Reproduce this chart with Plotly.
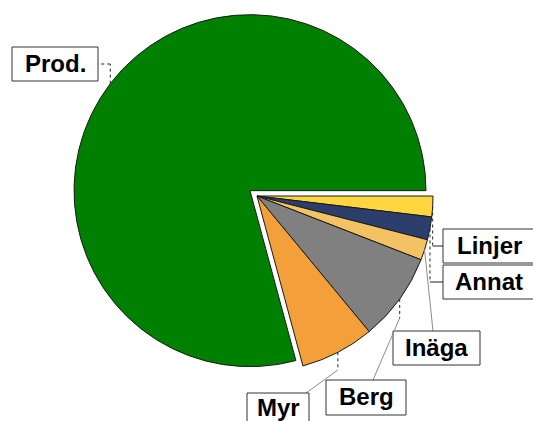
import math
import plotly.graph_objects as go

# ---- data ----
labels = ["Linjer", "Annat", "Inäga", "Berg", "Myr", "Prod."]
values = [1.9, 2.1, 1.9, 8.1, 6.8, 79.2]
colors = ["#FFD640", "#2C3E6B", "#F3C263", "#808080", "#F3A03A", "#008000"]
pulls = [0, 0, 0, 0, 0, 0.05]

# ---- layout config (pixels) ----
W, H = 533, 421
CX, CY, R = 257, 196, 176
# label boxes: x0, y0, x1, y1
boxes = {
    "Prod.": (12, 47, 98, 81),
    "Linjer": (443, 229, 536, 263),
    "Annat": (443, 265, 536, 299),
    "Inäga": (393, 331, 480, 365),
    "Berg": (326, 380, 406, 415),
    "Myr": (247, 393, 309, 428),
}
# leader: (elbow y or None, end point, second segment style)
leaders = {
    "Prod.": (64, (98, 64), "dot"),
    "Linjer": (246, (443, 246), "solid"),
    "Annat": (282, (443, 282), "solid"),
    "Inäga": (None, (433, 331), "gray"),
    "Berg": (318, (373, 380), "gray"),
    "Myr": (370, (306, 393), "gray"),
}


def px(x):
    return x / W


def py(y):
    return 1 - y / H


maxpull = max(pulls)
half = R * (1 + maxpull)

fig = go.Figure(
    go.Pie(
        labels=labels,
        values=values,
        sort=False,
        direction="clockwise",
        rotation=90,
        pull=pulls,
        textinfo="none",
        hoverinfo="label+percent",
        marker=dict(colors=colors, line=dict(color="#1a1a1a", width=1)),
        domain=dict(x=[px(CX - half), px(CX + half)], y=[py(CY + half), py(CY - half)]),
        showlegend=False,
    )
)

shapes = []
annotations = []
total = sum(values)
cum = 0.0
for lab, v, pl in zip(labels, values, pulls):
    mid = math.radians(90 + 360 * (cum + v / 2) / total)
    cum += v
    ox = CX + pl * R * math.sin(mid)
    oy = CY - pl * R * math.cos(mid)
    ax = ox + R * math.sin(mid)
    ay = oy - R * math.cos(mid)
    ely, end, style = leaders[lab]
    if ely is not None:
        shapes.append(dict(type="line", xref="paper", yref="paper",
                           x0=px(ax), y0=py(ay), x1=px(ax), y1=py(ely),
                           line=dict(color="#222222", width=1, dash="dot")))
        sx, sy = ax, ely
    else:
        sx, sy = ax, ay
    if style == "gray":
        ln = dict(color="#8c8c8c", width=1)
    elif style == "dot":
        ln = dict(color="#222222", width=1, dash="dot")
    else:
        ln = dict(color="#222222", width=1)
    shapes.append(dict(type="line", xref="paper", yref="paper",
                       x0=px(sx), y0=py(sy), x1=px(end[0]), y1=py(end[1]), line=ln))
    x0, y0, x1, y1 = boxes[lab]
    shapes.append(dict(type="rect", xref="paper", yref="paper",
                       x0=px(x0), y0=py(y1), x1=px(x1), y1=py(y0),
                       line=dict(color="#333333", width=1), fillcolor="white", layer="above"))
    tx = (x0 + x1) / 2 if lab not in ("Linjer", "Annat") else x0 + 46
    ty = (y0 + y1) / 2 if lab != "Myr" else y0 + 15
    annotations.append(dict(text=lab, xref="paper", yref="paper",
                            x=px(tx), y=py(ty - 1),
                            xanchor="center", yanchor="middle", showarrow=False,
                            font=dict(family="Liberation Sans, Arial, sans-serif", size=24,
                                      color="black", weight="bold")))

fig.update_layout(
    width=W, height=H,
    margin=dict(l=0, r=0, t=0, b=0),
    paper_bgcolor="white", plot_bgcolor="white",
    shapes=shapes, annotations=annotations,
)

fig.write_html("out.html", config={"displayModeBar": False},
               post_script="document.body.style.margin='0';")
